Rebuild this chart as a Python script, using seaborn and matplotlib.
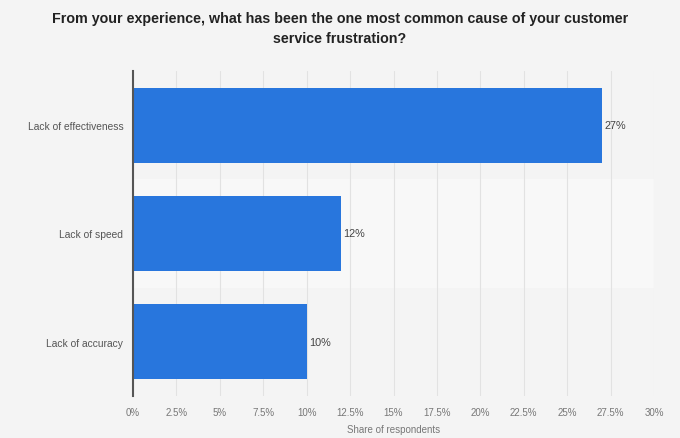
import matplotlib
matplotlib.use('Agg')
import pandas as pd
import matplotlib.pyplot as plt
import seaborn as sns

# Data
causes = ['Lack of effectiveness', 'Lack of speed', 'Lack of accuracy']
shares = [27, 12, 10]
x_ticks = [0, 2.5, 5, 7.5, 10, 12.5, 15, 17.5, 20, 22.5, 25, 27.5, 30]
x_tick_labels = ['0%', '2.5%', '5%', '7.5%', '10%', '12.5%', '15%', '17.5%',
                 '20%', '22.5%', '25%', '27.5%', '30%']

df = pd.DataFrame({'cause': causes, 'share': shares})

sns.set_theme(style='white')
plt.rcParams['font.family'] = ['Liberation Sans', 'DejaVu Sans']

bg = '#f4f4f4'
fig = plt.figure(figsize=(6.8, 4.39), dpi=100, facecolor=bg)
ax = fig.add_axes([0.1956, 0.0957, 0.7662, 0.7403])
ax.set_facecolor(bg)

# faint lighter band behind the middle row
ax.axhspan(0.5, 1.5, color='#f8f8f8', zorder=0, linewidth=0)

sns.barplot(data=df, x='share', y='cause', color='#2876dd', width=0.69,
            saturation=1, linewidth=0, ax=ax, zorder=3)

bars = ax.containers[0]
for bar, val in zip(bars, shares):
    ax.text(bar.get_width() + 0.12, bar.get_y() + bar.get_height() / 2,
            f'{val}%', va='center', ha='left', fontsize=7.8, color='#444444')

ax.set_xlim(0, 30)
ax.set_ylim(2.5, -0.5)
ax.set_xticks(x_ticks)
ax.set_xticklabels(x_tick_labels)
ax.tick_params(axis='x', labelsize=7, colors='#777777', length=0, pad=8)
ax.tick_params(axis='y', labelsize=7.4, colors='#555555', length=0, pad=7)
ax.grid(axis='x', color='#e2e2e2', linewidth=0.8, zorder=0)
ax.set_axisbelow(True)

for side in ['top', 'right', 'bottom']:
    ax.spines[side].set_visible(False)
ax.spines['left'].set_color('#555555')
ax.spines['left'].set_linewidth(1.5)
ax.spines['left'].set_zorder(5)

ax.set_xlabel('Share of respondents', fontsize=7, color='#777777', labelpad=5)
ax.set_ylabel('')

fig.text(0.5, 0.972,
         'From your experience, what has been the one most common cause of your customer\nservice frustration?',
         ha='center', va='top', fontsize=10.3, fontweight='bold', color='#222222',
         linespacing=1.5)

fig.savefig('out.png', dpi=100, facecolor=bg)
